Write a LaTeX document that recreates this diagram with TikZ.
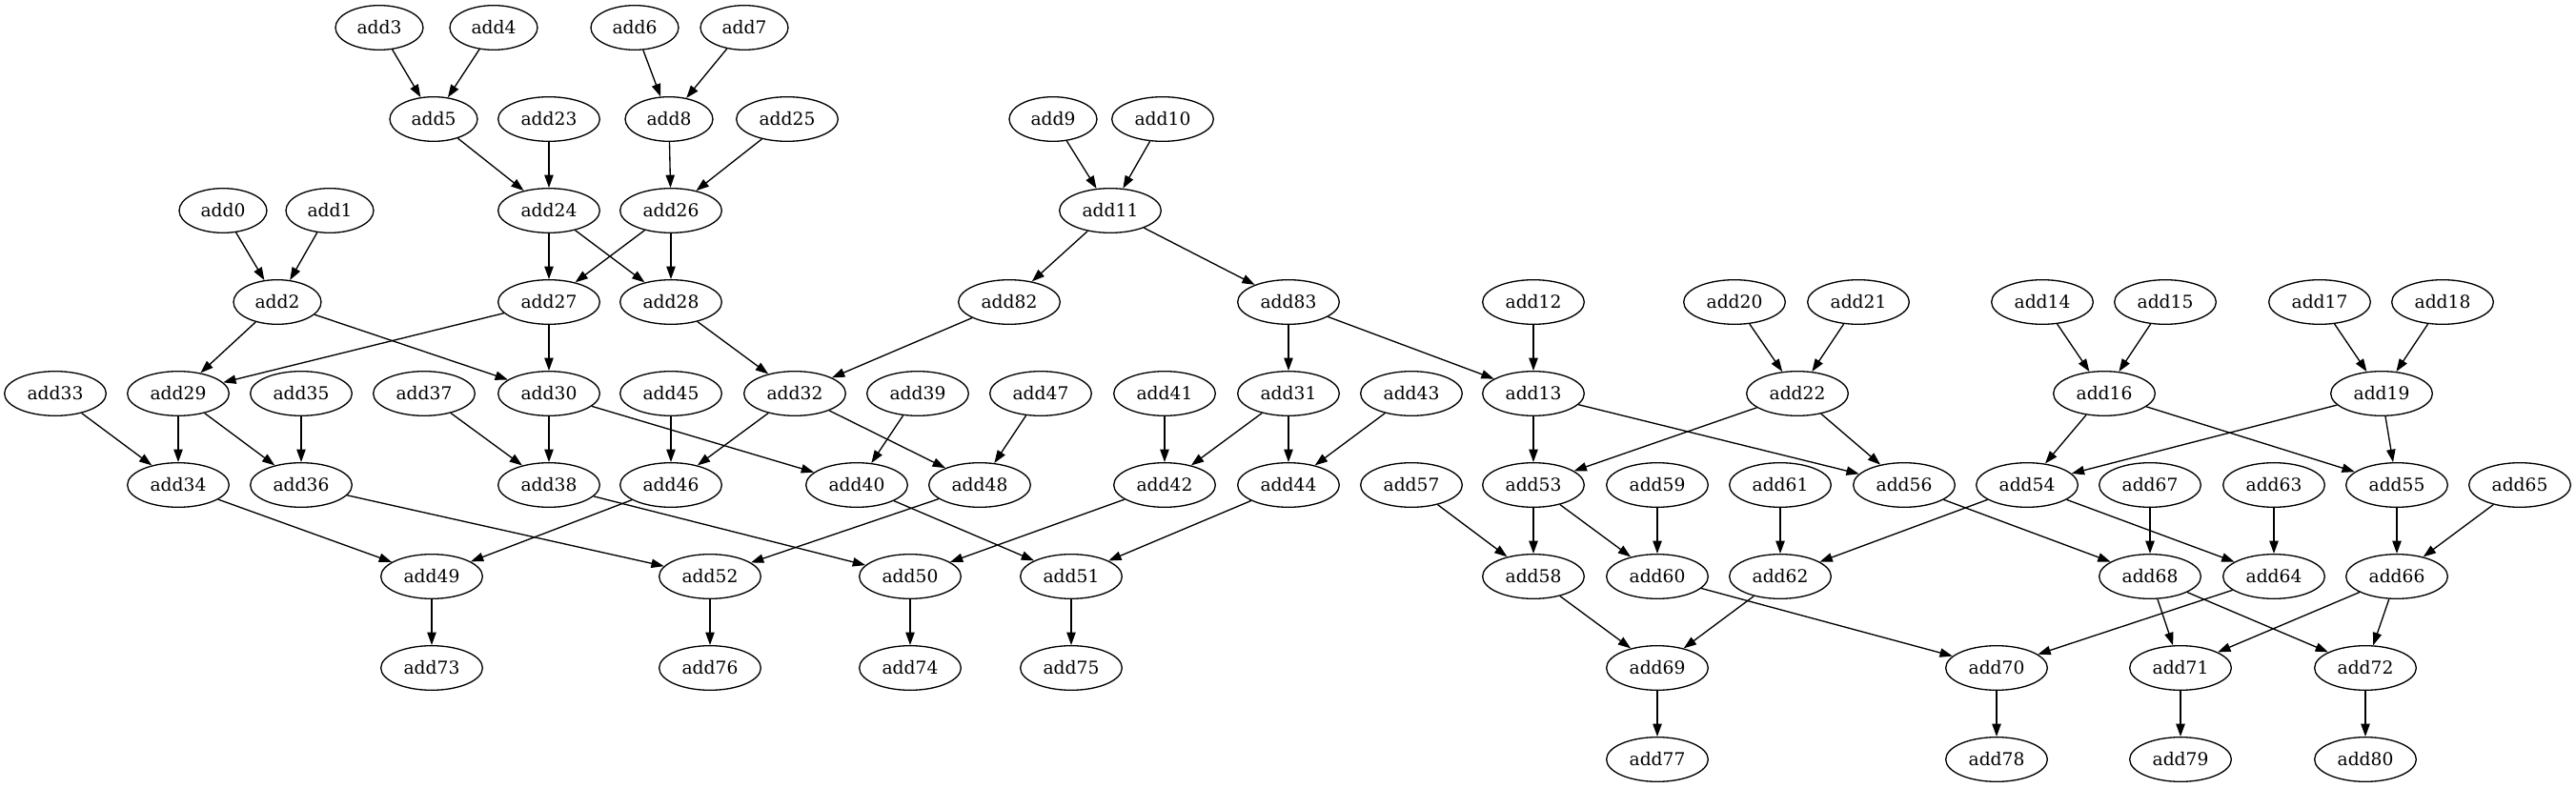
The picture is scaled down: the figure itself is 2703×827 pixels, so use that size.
\documentclass[tikz,border=0pt]{standalone}
\usepackage{fontspec}
\setmainfont{DejaVu Serif}
\usetikzlibrary{shapes.geometric,arrows.meta}

\tikzset{
  op/.style={draw, ellipse, line width=1pt, minimum width=80pt, minimum height=35pt,
    inner sep=0pt, font=\fontsize{14pt}{16pt}\selectfont},
  sop/.style={op, minimum width=69pt},
  dep/.style={line width=1pt, -{Triangle[length=10pt,width=7pt]}}
}

\begin{document}
\begin{tikzpicture}[x=0.75pt,y=-0.75pt]
\useasboundingbox (0,0) rectangle (2703,827);

% single digit ops: name/x/row
\foreach \n/\x/\r in {3/398/0,4/518/0,6/666/0,7/781/0,
                      5/455/1,8/702/1,9/1105/1,
                      0/234/2,1/346/2,
                      2/291/3}
{
\node[sop] (add\n) at ({\x},{29+96*\r}) {add\n};
}

% the others
\foreach \n/\x/\r in {23/576/1,25/826/1,10/1220/1,
   24/576/2,26/704/2,11/1165/2,
   27/576/3,28/704/3,82/1059/3,83/1352/3,12/1609/3,20/1820/3,21/1950/3,
   14/2143/3,15/2272/3,17/2434/3,18/2563/3,
   33/58/4,29/187/4,35/316/4,37/445/4,30/576/4,45/704/4,32/834/4,39/963/4,
   47/1092/4,41/1222/4,31/1352/4,43/1481/4,13/1609/4,22/1886/4,16/2208/4,19/2499/4,
   34/187/5,36/316/5,38/576/5,46/704/5,40/899/5,48/1028/5,42/1222/5,44/1352/5,
   57/1481/5,53/1609/5,59/1739/5,61/1868/5,56/1998/5,54/2127/5,67/2256/5,
   63/2386/5,55/2515/5,65/2644/5,
   49/453/6,52/745/6,50/955/6,51/1124/6,58/1609/6,60/1739/6,62/1868/6,
   68/2256/6,64/2386/6,66/2515/6,
   73/453/7,76/745/7,74/955/7,75/1124/7,69/1739/7,70/2095/7,71/2288/7,72/2482/7,
   77/1739/8,78/2095/8,79/2288/8,80/2482/8}
{
\node[op] (add\n) at ({\x},{29+96*\r}) {add\n};
}

\foreach \a/\b in {3/5,4/5,6/8,7/8,5/24,23/24,8/26,25/26,9/11,10/11,
   0/2,1/2,24/27,24/28,26/27,26/28,11/82,11/83,
   2/29,2/30,27/29,27/30,28/32,82/32,83/31,83/13,12/13,
   20/22,21/22,14/16,15/16,17/19,18/19,
   33/34,29/34,29/36,35/36,37/38,30/38,30/40,45/46,32/46,32/48,
   39/40,47/48,41/42,31/42,31/44,43/44,
   13/53,13/56,22/53,22/56,16/54,16/55,19/54,19/55,
   34/49,46/49,36/52,48/52,38/50,42/50,40/51,44/51,
   57/58,53/58,53/60,59/60,61/62,54/62,56/68,67/68,54/64,63/64,
   55/66,65/66,58/69,62/69,60/70,64/70,68/71,66/71,68/72,66/72,
   49/73,52/76,50/74,51/75,69/77,70/78,71/79,72/80}
{
\draw[dep] (add\a) -- (add\b);
}
\end{tikzpicture}
\end{document}
